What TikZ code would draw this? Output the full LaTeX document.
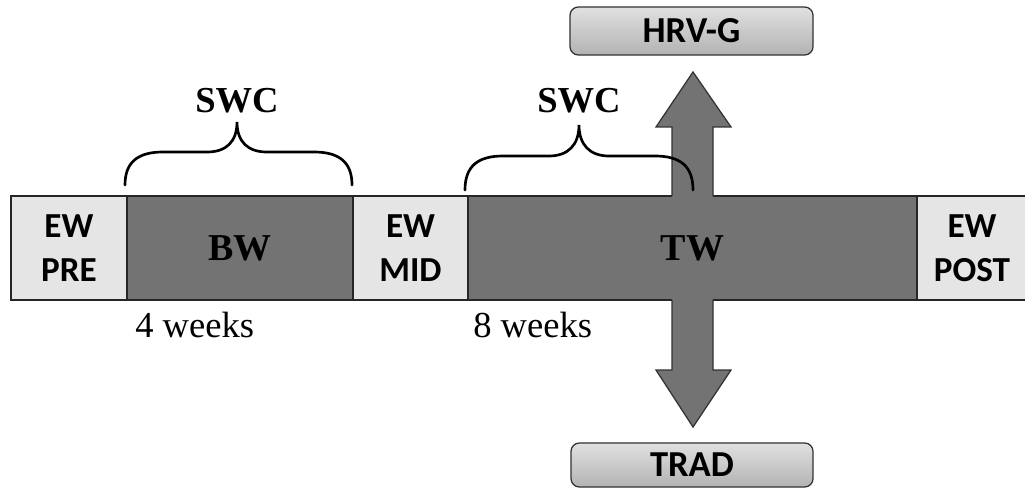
\documentclass[tikz,border=0pt]{standalone}
\usepackage{fontspec}
\setmainfont{Liberation Serif}
\newfontfamily\calib{Carlito}
\usetikzlibrary{calc}

\tikzset{
  ewbox/.style={draw=black!85, line width=0.9pt, fill=black!10, align=center,
    font=\calib\bfseries\fontsize{25}{31}\selectfont, minimum height=2.6cm, inner sep=0pt},
  wkbox/.style={draw=black!85, line width=0.9pt, fill=black!55,
    font=\bfseries\fontsize{27}{32}\selectfont, minimum height=2.6cm, inner sep=0pt},
  grpbox/.style={draw=black!80, line width=0.9pt, rounded corners=6pt,
    top color=black!12, bottom color=black!30,
    font=\calib\bfseries\fontsize{26}{31}\selectfont, inner sep=0pt},
  bigarrow/.style={draw=black!80, line width=0.9pt, line join=miter},
  swcbrace/.style={line width=1.9pt, line cap=round},
}

\begin{document}
\begin{tikzpicture}[x=0.025cm, y=-0.025cm]
        \useasboundingbox (0,0) rectangle (1025,492);

        % 时间轴上的各个阶段
        \node[ewbox, minimum width=2.9cm] (pre) at (69,248) {EW\\PRE};
        \node[wkbox, minimum width=5.65cm] (bw) at (240,248) {BW};
        \node[ewbox, minimum width=2.875cm] (mid) at (410.5,248) {EW\\MID};
        \node[wkbox, minimum width=11.225cm] (tw) at (692.5,248) {TW};
        \node[ewbox, minimum width=2.75cm] (post) at (972,248) {EW\\POST};

        % 向上和向下的箭头
        \fill[black!55] (672,199) -- (672,127) -- (656,127) -- (693,72)
            -- (731,127) -- (713,127) -- (713,199) -- cycle;
        \draw[bigarrow] (672,196.5) -- (672,127) -- (656,127) -- (693,72)
            -- (731,127) -- (713,127) -- (713,196.5);
        \fill[black!55] (672,297) -- (672,370) -- (656,370) -- (693,427)
            -- (731,370) -- (713,370) -- (713,297) -- cycle;
        \draw[bigarrow] (672,299.5) -- (672,370) -- (656,370) -- (693,427)
            -- (731,370) -- (713,370) -- (713,299.5);

        % 两个分组
        \node[grpbox, minimum width=6.075cm, minimum height=1.2cm] (hrvg) at (691.5,31) {HRV-G};
        \node[grpbox, minimum width=6.05cm, minimum height=1.1cm] (trad) at (692,465) {TRAD};

        % 大括号 SWC
        \draw[swcbrace] (125,185) .. controls (125,162) and (138,152) .. (163,152)
            -- (207,152) .. controls (226,152) and (237,142) .. (237,122)
            .. controls (237,142) and (248,152) .. (267,152)
            -- (314,152) .. controls (339,152) and (352,162) .. (352,185);
        \node[anchor=base, font=\bfseries\fontsize{26}{31}\selectfont] (swc1) at (237,113) {SWC};

        \draw[swcbrace] (465,190) .. controls (465,166) and (478,156) .. (503,156)
            -- (549,156) .. controls (568,156) and (579,145) .. (579,125)
            .. controls (579,145) and (590,156) .. (609,156)
            -- (655,156) .. controls (680,156) and (693,166) .. (693,190);
        \node[anchor=base, font=\bfseries\fontsize{26}{31}\selectfont] (swc2) at (579,113) {SWC};

        % 周数
        \node[anchor=base west, inner sep=0pt, font=\fontsize{26}{31}\selectfont] (wk4) at (135,337) {4 weeks};
        \node[anchor=base west, inner sep=0pt, font=\fontsize{26}{31}\selectfont] (wk8) at (473,337) {8 weeks};
\end{tikzpicture}
\end{document}
